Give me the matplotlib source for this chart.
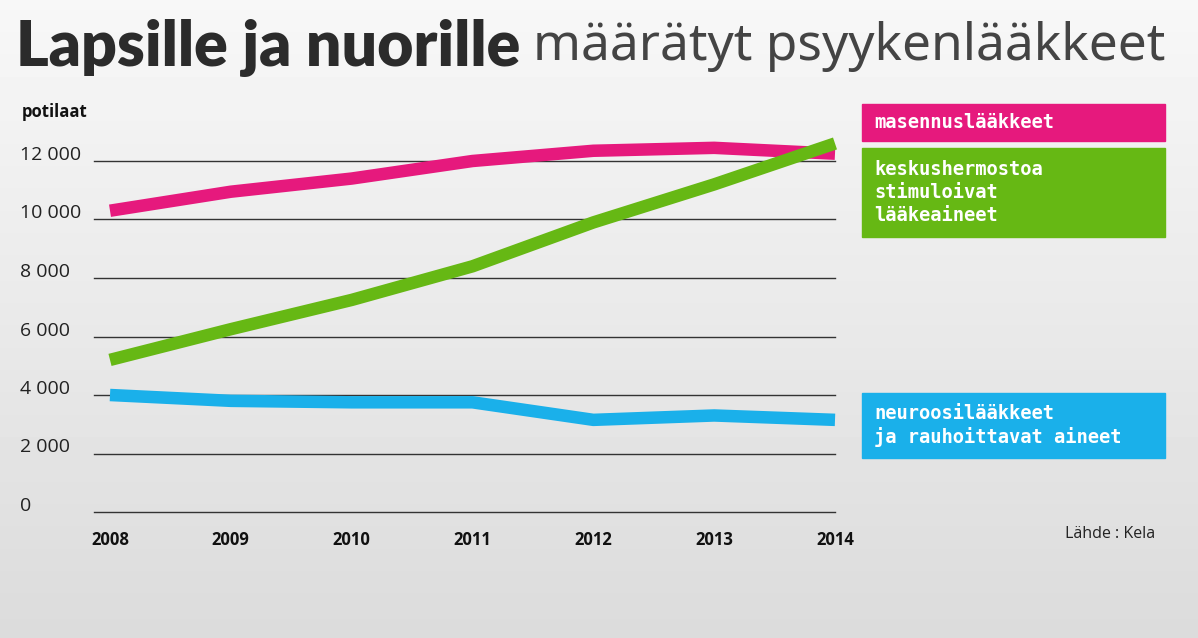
import numpy as np
import matplotlib.pyplot as plt

years = [2008, 2009, 2010, 2011, 2012, 2013, 2014]
masennus = [10300, 10950, 11400, 12000, 12350, 12450, 12250]
stimul = [5200, 6250, 7250, 8400, 9900, 11200, 12600]
neuroosi = [4000, 3800, 3750, 3750, 3150, 3300, 3150]
yticks = [0, 2000, 4000, 6000, 8000, 10000, 12000]

PINK = "#e6197d"
GREEN = "#66b814"
BLUE = "#1ab0ea"

W, H = 1198, 638
fig = plt.figure(figsize=(W / 100, H / 100), dpi=100)

# soft gray background
bg = fig.add_axes([0, 0, 1, 1])
grad = np.linspace(0.97, 0.86, 200).reshape(-1, 1)
bg.imshow(grad, cmap="gray", vmin=0, vmax=1, aspect="auto", extent=[0, 1, 0, 1])
bg.set_axis_off()

def fx(px):
    return px / W

def fy(py):
    return 1 - py / H

ax = fig.add_axes([fx(110), fy(512), fx(835 - 110), (512 - 161) / H])
ax.patch.set_alpha(0)
ax.set_xlim(2008, 2014)
ax.set_ylim(0, 12000)
for s in ax.spines.values():
    s.set_visible(False)
ax.set_xticks([])
ax.set_yticks([])
for v in yticks:
    ax.plot([2007.87, 2014], [v, v], color="#333333", lw=1, clip_on=False, zorder=1)
    py = 512 - v / 12000 * (512 - 161)
    fig.text(fx(20), fy(py - 6), f"{v:,}".replace(",", " ") if v else "0",
             ha="left", va="center", fontsize=14, color="#222222", family="Open Sans")
for y in years:
    ax.text(y, -650, str(y), ha="center", va="top", fontsize=12,
            fontweight="bold", color="#111111", family="Open Sans")

ax.plot(years, masennus, color=PINK, lw=9, clip_on=False, zorder=3, solid_capstyle="butt")
ax.plot(years, stimul, color=GREEN, lw=9, clip_on=False, zorder=4, solid_capstyle="butt")
ax.plot(years, neuroosi, color=BLUE, lw=9, clip_on=False, zorder=3, solid_capstyle="butt")

fig.text(fx(22), fy(112), "potilaat", fontsize=12, fontweight="bold",
         va="center", family="Open Sans", color="#111111")

# title
fig.text(fx(16), fy(48), "Lapsille ja nuorille", fontsize=45,
         fontweight="black", family="Lato", color="#2b2b2b", va="center")
fig.text(fx(533), fy(46), "määrätyt psyykenlääkkeet", fontsize=37,
         fontweight="light", family="Noto Sans", color="#444444", va="center")

# legend boxes
boxes = [
    (104, 141, PINK, "masennuslääkkeet"),
    (148, 237, GREEN, "keskushermostoa\nstimuloivat\nlääkeaineet"),
    (393, 458, BLUE, "neuroosilääkkeet\nja rauhoittavat aineet"),
]
for top, bot, col, label in boxes:
    fig.patches.append(plt.Rectangle((fx(862), fy(bot)), fx(1165 - 862), (bot - top) / H,
                                     transform=fig.transFigure, color=col, zorder=5))
    fig.text(fx(874), fy((top + bot) / 2), label, fontsize=13.5, fontweight="bold",
             family="DejaVu Sans Mono", color="white", va="center", linespacing=1.25, zorder=6)

fig.text(fx(1065), fy(534), "Lähde : Kela", fontsize=11.5, family="Open Sans",
         color="#222222", va="center")

fig.savefig("out.png", dpi=100)
